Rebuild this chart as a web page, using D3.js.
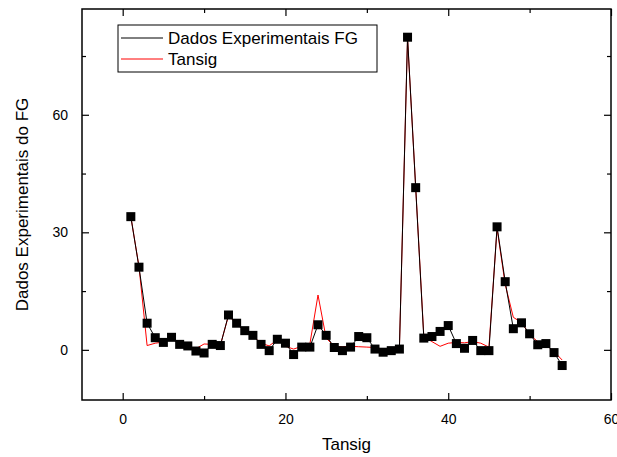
<!DOCTYPE html>
<html>
<head>
<meta charset="utf-8">
<script src="https://cdn.jsdelivr.net/npm/d3@7"></script>
<style>
  body { margin: 0; background: #fff; }
  text { font-family: "Liberation Sans", Arial, sans-serif; }
</style>
</head>
<body>
<svg width="617" height="457"></svg>
<script>
    // sample index 1..54
    const samples = d3.range(1, 55);

    // measured values (black squares)
    const experimental = [
      34.0, 21.1, 6.8, 3.1, 1.9, 3.2, 1.4, 1.0, -0.3, -0.8,
      1.4, 1.1, 8.9, 6.8, 4.9, 3.7, 1.4, -0.2, 2.7, 1.7,
      -1.2, 0.7, 0.7, 6.4, 3.7, 0.6, -0.2, 0.7, 3.4, 3.1,
      0.2, -0.6, -0.2, 0.2, 79.8, 41.4, 3.0, 3.4, 4.7, 6.2,
      1.6, 0.4, 2.4, -0.2, -0.2, 31.4, 17.4, 5.4, 6.9, 4.1,
      1.3, 1.6, -0.7, -4.0
    ];

    // network output (red line)
    const tansig = [
      34.0, 21.3, 1.1, 1.7, 2.0, 2.8, 1.6, 0.6, 0.3, 1.5,
      1.4, 1.2, 8.7, 6.6, 4.7, 3.5, 1.7, 1.0, 2.6, 0.9,
      0.2, 0.9, 1.5, 14.0, 3.0, 0.9, 0.8, 0.9, 0.8, 0.7,
      0.6, 0.2, 0.1, 0.3, 79.5, 41.6, 3.4, 2.1, 0.9, 1.7,
      1.9, 1.8, 2.1, 1.7, 0.7, 31.0, 16.7, 8.3, 7.0, 3.9,
      2.1, 1.3, -0.4, -2.6
    ];

    const xTicks = [0, 20, 40, 60];
    const xMinor = [10, 30, 50];
    const yTicks = [0, 30, 60];
    const yMinor = [15, 45, 75];

    const legendLabels = ["Dados Experimentais FG", "Tansig"];
    const legendColors = ["#000", "#ff0000"];

    const svg = d3.select("svg"),
          margin = {top: 9, right: 6, bottom: 57, left: 82},
          width = +svg.attr("width") - margin.left - margin.right,
          height = +svg.attr("height") - margin.top - margin.bottom;

    const g = svg.append("g").attr("transform", `translate(${margin.left},${margin.top})`);

    const x = d3.scaleLinear().domain([-5, 60]).range([0, width]);
    const y = d3.scaleLinear().domain([-12.8, 87]).range([height, 0]);

    const black = samples.map((s, i) => ({x: s, y: experimental[i]}));
    const red = samples.map((s, i) => ({x: s, y: tansig[i]}));

    const line = d3.line()
      .x(d => x(d.x))
      .y(d => y(d.y));

    // red fitted curve under the data
    g.append("path")
      .datum(red)
      .attr("fill", "none")
      .attr("stroke", "#ff0000")
      .attr("stroke-width", 1)
      .attr("d", line);

    g.append("path")
      .datum(black)
      .attr("fill", "none")
      .attr("stroke", "#000")
      .attr("stroke-width", 1)
      .attr("d", line);

    g.selectAll(".sq")
      .data(black)
      .enter().append("rect")
      .attr("class", "sq")
      .attr("x", d => x(d.x) - 4.5)
      .attr("y", d => y(d.y) - 4.5)
      .attr("width", 9)
      .attr("height", 9)
      .attr("fill", "#000");

    // axes, ticks pointing inward
    const axisStyle = sel => {
      sel.select(".domain").remove();
      sel.selectAll("line").attr("stroke", "#000").attr("stroke-width", 1.2);
      sel.selectAll("text").style("font-size", "14px").attr("fill", "#000")
        .style("font-family", "Liberation Sans, Arial, sans-serif");
    };

    g.append("g")
      .attr("transform", `translate(0,${height})`)
      .call(d3.axisBottom(x).tickValues(xTicks).tickSize(-7).tickPadding(14).tickFormat(d3.format("d")))
      .call(axisStyle);
    g.append("g")
      .attr("transform", `translate(0,${height})`)
      .call(d3.axisBottom(x).tickValues(xMinor).tickSize(-4).tickFormat(""))
      .call(axisStyle);
    g.append("g")
      .call(d3.axisTop(x).tickValues(xTicks).tickSize(-7).tickFormat(""))
      .call(axisStyle);
    g.append("g")
      .call(d3.axisTop(x).tickValues(xMinor).tickSize(-4).tickFormat(""))
      .call(axisStyle);

    g.append("g")
      .call(d3.axisLeft(y).tickValues(yTicks).tickSize(-7).tickPadding(14).tickFormat(d3.format("d")))
      .call(axisStyle);
    g.append("g")
      .call(d3.axisLeft(y).tickValues(yMinor).tickSize(-4).tickFormat(""))
      .call(axisStyle);
    g.append("g")
      .attr("transform", `translate(${width},0)`)
      .call(d3.axisRight(y).tickValues(yTicks).tickSize(-7).tickFormat(""))
      .call(axisStyle);
    g.append("g")
      .attr("transform", `translate(${width},0)`)
      .call(d3.axisRight(y).tickValues(yMinor).tickSize(-4).tickFormat(""))
      .call(axisStyle);

    // frame
    g.append("rect")
      .attr("width", width)
      .attr("height", height)
      .attr("fill", "none")
      .attr("stroke", "#000")
      .attr("stroke-width", 1.5);

    // legend
    const legend = svg.append("g").attr("transform", "translate(118,25)");
    legend.append("rect")
      .attr("width", 259)
      .attr("height", 47)
      .attr("fill", "#fff")
      .attr("stroke", "#000")
      .attr("stroke-width", 1);
    legendLabels.forEach((lab, i) => {
      const ly = 13 + i * 21;
      legend.append("line")
        .attr("x1", 3).attr("x2", 45)
        .attr("y1", ly).attr("y2", ly)
        .attr("stroke", legendColors[i])
        .attr("stroke-width", 1);
      legend.append("text")
        .attr("x", 50)
        .attr("y", ly + 6)
        .style("font-size", "17px")
        .text(lab);
    });

    // axis titles
    svg.append("text")
      .attr("x", margin.left + width / 2)
      .attr("y", 450)
      .attr("text-anchor", "middle")
      .style("font-size", "17px")
      .text("Tansig");

    svg.append("text")
      .attr("transform", "rotate(-90)")
      .attr("x", -(margin.top + height / 2))
      .attr("y", 28)
      .attr("text-anchor", "middle")
      .style("font-size", "17px")
      .text("Dados Experimentais do FG");
</script>
</body>
</html>
